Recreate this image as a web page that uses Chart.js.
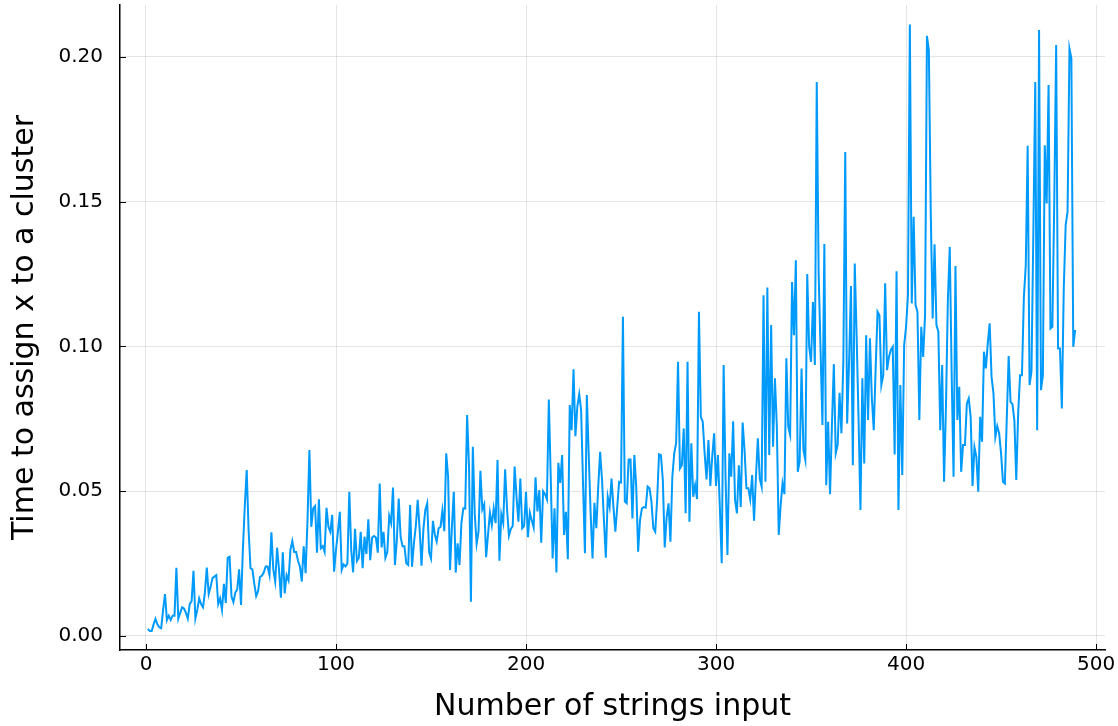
<!DOCTYPE html>
<html>
<head>
<meta charset="utf-8">
<script src="https://cdn.jsdelivr.net/npm/chart.js@4"></script>
<style>
  body { margin: 0; background: #fff; }
  #wrap { width: 1118px; height: 726px; }
</style>
</head>
<body>
<div id="wrap"><canvas id="timingChart"></canvas></div>
<script>
// time (s) to assign x to a cluster, one value per input size (1..489)
const times = [
  0.0024, 0.0017, 0.0017, 0.004, 0.0059, 0.004, 0.003, 0.0027, 0.009, 0.0145,
  0.0055, 0.007, 0.0055, 0.007, 0.007, 0.0236, 0.006, 0.008, 0.0099, 0.0095,
  0.008, 0.006, 0.011, 0.012, 0.0225, 0.006, 0.009, 0.013, 0.011, 0.0099,
  0.015, 0.0236, 0.0145, 0.017, 0.020, 0.0205, 0.021, 0.011, 0.013, 0.009,
  0.018, 0.0114, 0.027, 0.0274, 0.0136, 0.0117, 0.015, 0.016, 0.023, 0.0107,
  0.030, 0.045, 0.0573, 0.0366, 0.0234, 0.023, 0.018, 0.0138, 0.0155, 0.0204,
  0.0208, 0.022, 0.024, 0.024, 0.021, 0.0358, 0.023, 0.0188, 0.0305, 0.023,
  0.0132, 0.0289, 0.0147, 0.021, 0.0192, 0.0297, 0.0328, 0.029, 0.029, 0.026,
  0.024, 0.0188, 0.031, 0.0217, 0.040, 0.0642, 0.0377, 0.0441, 0.0449, 0.0288,
  0.0472, 0.0303, 0.031, 0.029, 0.0443, 0.0377, 0.036, 0.0418, 0.0222, 0.0298,
  0.036, 0.0429, 0.0228, 0.0247, 0.024, 0.025, 0.0498, 0.0298, 0.022, 0.037,
  0.0259, 0.027, 0.036, 0.0234, 0.0343, 0.0283, 0.0403, 0.0262, 0.034, 0.0345,
  0.034, 0.0288, 0.0527, 0.0306, 0.036, 0.027, 0.029, 0.0415, 0.039, 0.0513,
  0.0245, 0.033, 0.0475, 0.0343, 0.031, 0.031, 0.0251, 0.0245, 0.0452, 0.0239,
  0.032, 0.038, 0.047, 0.037, 0.0243, 0.037, 0.0435, 0.0458, 0.029, 0.0268,
  0.0398, 0.035, 0.0326, 0.0372, 0.0377, 0.0433, 0.0362, 0.0631, 0.055, 0.0228,
  0.0377, 0.0498, 0.0219, 0.032, 0.0245, 0.039, 0.0441, 0.044, 0.0763, 0.0585,
  0.0118, 0.0654, 0.0424, 0.0318, 0.036, 0.0571, 0.0437, 0.0455, 0.0272, 0.035,
  0.0426, 0.0383, 0.0441, 0.039, 0.0608, 0.026, 0.042, 0.039, 0.0576, 0.044,
  0.0346, 0.037, 0.038, 0.0585, 0.048, 0.0395, 0.0544, 0.0372, 0.038, 0.0498,
  0.0341, 0.0426, 0.040, 0.0375, 0.0548, 0.043, 0.0504, 0.0322, 0.050, 0.049,
  0.0472, 0.0817, 0.055, 0.0268, 0.0441, 0.0219, 0.0598, 0.0529, 0.0625, 0.0349,
  0.0429, 0.0265, 0.0798, 0.0711, 0.0921, 0.069, 0.0792, 0.0835, 0.078, 0.0527,
  0.0286, 0.0832, 0.0625, 0.0424, 0.0268, 0.046, 0.0372, 0.0516, 0.0636, 0.0539,
  0.040, 0.027, 0.0481, 0.0446, 0.0544, 0.0446, 0.036, 0.0446, 0.0533, 0.053,
  0.1103, 0.0464, 0.0458, 0.061, 0.061, 0.0406, 0.0625, 0.0516, 0.0291, 0.040,
  0.0441, 0.0445, 0.0443, 0.0516, 0.051, 0.0464, 0.0372, 0.036, 0.047, 0.0628,
  0.0625, 0.0539, 0.0306, 0.041, 0.0458, 0.0326, 0.055, 0.0631, 0.0666, 0.0947,
  0.0579, 0.059, 0.0717, 0.0424, 0.0947, 0.0395, 0.0666, 0.0481, 0.0521, 0.0473,
  0.112, 0.0757, 0.074, 0.0631, 0.0541, 0.0677, 0.0518, 0.062, 0.070, 0.0518,
  0.0625, 0.0446, 0.0251, 0.0936, 0.055, 0.028, 0.0631, 0.055, 0.0742, 0.047,
  0.0424, 0.059, 0.0446, 0.0737, 0.0642, 0.051, 0.051, 0.0472, 0.0556, 0.0398,
  0.055, 0.0683, 0.0544, 0.0516, 0.1177, 0.0533, 0.1204, 0.0625, 0.1074, 0.0654,
  0.089, 0.0723, 0.0349, 0.0452, 0.0527, 0.049, 0.0959, 0.0723, 0.0694, 0.1223,
  0.1039, 0.1298, 0.0567, 0.0602, 0.0924, 0.0642, 0.0608, 0.125, 0.0999, 0.0947,
  0.1154, 0.0936, 0.1914, 0.1252, 0.0988, 0.0729, 0.1354, 0.0521, 0.074, 0.049,
  0.073, 0.0939, 0.0631, 0.066, 0.084, 0.070, 0.095, 0.1672, 0.0734, 0.0942,
  0.1209, 0.059, 0.1287, 0.1034, 0.075, 0.0435, 0.089, 0.0596, 0.1039, 0.0746,
  0.1028, 0.0821, 0.0711, 0.0924, 0.112, 0.1108, 0.0867, 0.0901, 0.1218, 0.0918,
  0.0964, 0.0988, 0.0999, 0.0627, 0.126, 0.0435, 0.0867, 0.0556, 0.1005, 0.1068,
  0.1177, 0.2112, 0.1149, 0.1448, 0.1143, 0.112, 0.0746, 0.1068, 0.0964, 0.1108,
  0.2073, 0.2023, 0.1465, 0.1097, 0.1353, 0.1074, 0.1051, 0.0711, 0.0936, 0.0533,
  0.0792, 0.116, 0.1344, 0.0907, 0.055, 0.1278, 0.0746, 0.0861, 0.0567, 0.066,
  0.066, 0.0803, 0.0821, 0.0757, 0.0518, 0.0652, 0.0619, 0.0498, 0.0757, 0.0671,
  0.0982, 0.0924, 0.1011, 0.108, 0.0895, 0.0838, 0.0688, 0.0725, 0.070, 0.0631,
  0.0533, 0.0527, 0.075, 0.0967, 0.0809, 0.0801, 0.0746, 0.0539, 0.0769, 0.0901,
  0.0901, 0.117, 0.128, 0.1693, 0.0867, 0.0913, 0.14, 0.1914, 0.0711, 0.2093,
  0.0849, 0.09, 0.1695, 0.1494, 0.1903, 0.1062, 0.1068, 0.15, 0.2041, 0.0993,
  0.0993, 0.0786, 0.12, 0.1419, 0.1465, 0.2029, 0.1995, 0.0999, 0.1057
];
// number of strings input for each measurement
const stringCounts = times.map((_, i) => i + 1);

const xTicks = [0, 100, 200, 300, 400, 500];
const yTicks = [0, 0.05, 0.1, 0.15, 0.2];

const FONT = "'DejaVu Sans', sans-serif";

// small inward tick marks along the two axes (GR style)
const innerTicks = {
  id: "innerTicks",
  afterDatasetsDraw(chart) {
    const { ctx, chartArea, scales } = chart;
    ctx.save();
    ctx.strokeStyle = "#000";
    ctx.lineWidth = 1;
    ctx.beginPath();
    xTicks.forEach((v) => {
      const px = Math.round(scales.x.getPixelForValue(v)) + 0.5;
      ctx.moveTo(px, chartArea.bottom);
      ctx.lineTo(px, chartArea.bottom - 6);
    });
    yTicks.forEach((v) => {
      const py = Math.round(scales.y.getPixelForValue(v)) + 0.5;
      ctx.moveTo(chartArea.left, py);
      ctx.lineTo(chartArea.left + 6, py);
    });
    ctx.stroke();
    ctx.restore();
  },
};

// drop the automatic label overhang padding so the plot box sits where GR puts it
function noOverhang(scale) {
  scale.paddingTop = 0;
  scale.paddingBottom = 0;
  scale.paddingLeft = 0;
  scale.paddingRight = 0;
}

const ctx = document.getElementById("timingChart").getContext("2d");
const timingChart = new Chart(ctx, {
  type: "line",
  data: {
    datasets: [
      {
        label: "y1",
        data: stringCounts.map((n, i) => ({ x: n, y: times[i] })),
        borderColor: "#009AFA",
        borderWidth: 2,
        pointRadius: 0,
        tension: 0,
        fill: false,
      },
    ],
  },
  options: {
    responsive: true,
    maintainAspectRatio: false,
    animation: false,
    layout: { padding: { left: 0, right: 13, top: 5, bottom: 0 } },
    plugins: { legend: { display: false }, tooltip: { enabled: false } },
    scales: {
      x: {
        type: "linear",
        min: -13.68,
        max: 504.7,
        afterBuildTicks: (scale) => {
          scale.ticks = xTicks.map((v) => ({ value: v }));
        },
        afterFit: (scale) => {
          scale.height = 76;
          noOverhang(scale);
        },
        ticks: {
          font: { family: FONT, size: 20, lineHeight: 1 },
          color: "#000",
          padding: 5,
          maxRotation: 0,
          callback: (v) => String(v),
        },
        grid: { color: "rgba(0,0,0,0.1)", lineWidth: 1, drawTicks: false },
        border: { color: "#000", width: 1.5 },
        title: {
          display: true,
          text: "Number of strings input",
          font: { family: FONT, size: 30, lineHeight: 1 },
          color: "#000",
          padding: { top: 0, bottom: 4 },
        },
      },
      y: {
        min: -0.00484,
        max: 0.21796,
        afterBuildTicks: (scale) => {
          scale.ticks = yTicks.map((v) => ({ value: v }));
        },
        afterFit: (scale) => {
          scale.width = 120;
          noOverhang(scale);
        },
        ticks: {
          font: { family: FONT, size: 20, lineHeight: 1 },
          color: "#000",
          padding: 17,
          callback: (v) => v.toFixed(2),
        },
        grid: { color: "rgba(0,0,0,0.1)", lineWidth: 1, drawTicks: false },
        border: { color: "#000", width: 1.5 },
        title: {
          display: true,
          text: "Time to assign x to a cluster",
          font: { family: FONT, size: 30, lineHeight: 1 },
          color: "#000",
          padding: { top: 10, bottom: 0 },
        },
      },
    },
  },
  plugins: [innerTicks],
});
</script>
</body>
</html>
